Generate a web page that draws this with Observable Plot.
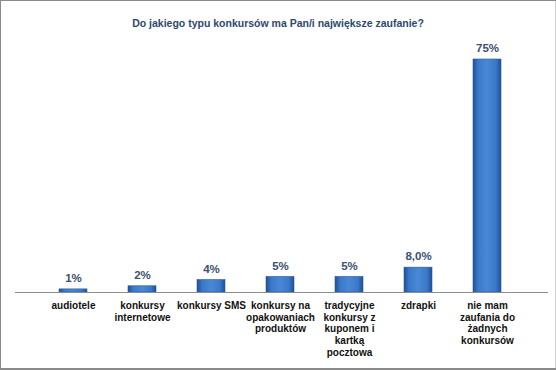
<!DOCTYPE html>
<html>
<head>
<meta charset="utf-8">
<script src="https://cdn.jsdelivr.net/npm/d3@7"></script>
<script src="https://cdn.jsdelivr.net/npm/@observablehq/plot@0.6"></script>
<style>
  html, body { margin: 0; padding: 0; background: #fff; }
  #chart svg { display: block; box-shadow: inset 1px 1px 0 #8a8a8a, inset 0 -2px 0 #8a8a8a, inset -1px 0 0 #d0d0d0; }
</style>
</head>
<body>
<div id="chart"></div>
<script>
const title = "Do jakiego typu konkursów ma Pan/i największe zaufanie?";
const categories = [
  "audiotele",
  "konkursy\ninternetowe",
  "konkursy SMS",
  "konkursy na\nopakowaniach\nproduktów",
  "tradycyjne\nkonkursy z\nkuponem i\nkartką\npocztowa",
  "zdrapki",
  "nie mam\nzaufania do\nżadnych\nkonkursów"
];
const values = [1, 2, 4, 5, 5, 8, 75];
const valueLabels = ["1%", "2%", "4%", "5%", "5%", "8,0%", "75%"];

const data = categories.map((c, i) => ({cat: c, v: values[i], lab: valueLabels[i]}));

const chart = Plot.plot({
  width: 556,
  height: 370,
  marginTop: 59,
  marginBottom: 78,
  marginLeft: 15,
  marginRight: 12,
  style: {fontFamily: "'Liberation Sans', Arial, sans-serif", background: "transparent"},
  x: {domain: categories, padding: 0.6, axis: null},
  y: {domain: [0, 75], axis: null},
  marks: [
    Plot.barY(data, {x: "cat", y: "v", fill: "url(#barGrad)", stroke: "#2a5a9a", strokeWidth: 0.6}),
    Plot.ruleY([0], {stroke: "#8c8c8c", strokeWidth: 1.2, insetLeft: 0, insetRight: -4}),
    Plot.text(data, {x: "cat", y: "v", text: "lab", dy: -11, fill: "#3a5070", fontWeight: "bold", fontSize: 11.5}),
    Plot.text(data, {x: "cat", text: "cat", frameAnchor: "bottom", lineAnchor: "top", dy: 8, fill: "#111", fontWeight: "bold", fontSize: 10, lineHeight: 1.17, letterSpacing: 0.3}),
    Plot.text([title], {text: d => d, frameAnchor: "top", dy: -40, dx: -2, fill: "#2b4a70", fontWeight: "bold", fontSize: 10.5, letterSpacing: -0.2})
  ]
});

const svg = d3.select(chart);
const defs = svg.insert("defs", ":first-child");
const g = defs.append("linearGradient").attr("id", "barGrad").attr("x1", "0").attr("x2", "1").attr("y1", "0").attr("y2", "0");
g.append("stop").attr("offset", "0%").attr("stop-color", "#1f4f93");
g.append("stop").attr("offset", "18%").attr("stop-color", "#3a78c9");
g.append("stop").attr("offset", "50%").attr("stop-color", "#4a88d6");
g.append("stop").attr("offset", "82%").attr("stop-color", "#3a78c9");
g.append("stop").attr("offset", "100%").attr("stop-color", "#1f4f93");

document.getElementById("chart").appendChild(chart);
</script>
</body>
</html>
